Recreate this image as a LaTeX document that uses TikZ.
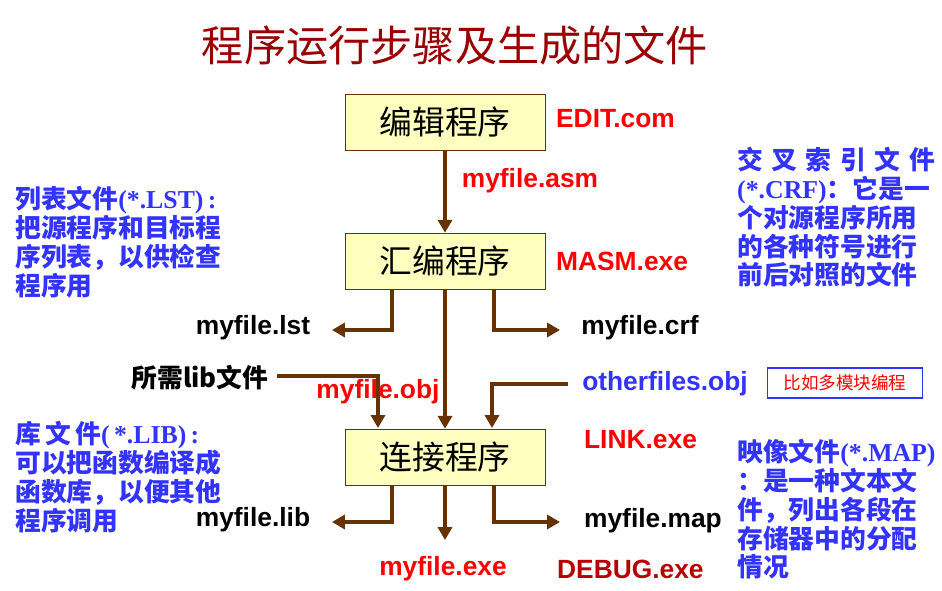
\documentclass[tikz,border=0pt]{standalone}
\usepackage{fontspec}
\setmainfont{Liberation Sans}
\newfontfamily\cjk{Noto Sans CJK SC}
\newfontfamily\tms{Liberation Serif}
\usetikzlibrary{arrows.meta}
\definecolor{arrowbrown}{HTML}{663300}
\definecolor{boxyellow}{HTML}{FFFFC0}
\definecolor{titlered}{HTML}{990000}
\definecolor{noteblue}{HTML}{3333FF}
\begin{document}
\begin{tikzpicture}[x=0.03cm,y=-0.03cm,
  prog/.style={draw=arrowbrown,fill=boxyellow,minimum width=200*0.03cm,minimum height=56*0.03cm,font=\cjk\fontsize{28}{30}\selectfont},
  flow/.style={arrowbrown,line width=2.6pt,-{Triangle[length=11pt,width=12pt]}},
  fname/.style={font=\bfseries\fontsize{22.5}{26}\selectfont},
  note/.style={noteblue,font=\tms\bfseries\fontsize{22}{24.6}\selectfont,align=left,anchor=north west,inner sep=0pt}]
  \useasboundingbox (0,0) rectangle (942,591);
  \node[titlered,font=\cjk\fontsize{36}{40}\selectfont] (title) at (455,45) {程序运行步骤及生成的文件};
  % the three programs
  \node[prog] (edit) at (445,122) {编辑程序};
  \node[prog] (masm) at (445,261) {汇编程序};
  \node[prog] (link) at (445,457) {连接程序};
  \node[fname,red,anchor=west] (editcom) at (552,119) {EDIT.com};
  \node[fname,red,anchor=west] (masmexe) at (552,261) {MASM.exe};
  \node[fname,red,anchor=west] (linkexe) at (580,440) {LINK.exe};
  \draw[flow] (edit) -- (masm);
  \node[fname,red] (asm) at (530,181) {myfile.asm};
  % outputs of masm
  \node[fname] (lst) at (253,328) {myfile.lst};
  \node[fname] (crf) at (640,328) {myfile.crf};
  \coordinate (lstend) at (332,330);
  \coordinate (crfend) at (560,330);
  \draw[flow] (masm.south) ++(-53,0) |- (lstend);
  \draw[flow] (masm.south) ++(49,0) |- (crfend);
  \draw[flow] (masm) -- (link);
  % inputs of link
  \node[font=\cjk\bfseries\fontsize{22}{24}\selectfont] (lib) at (200,378) {所需lib文件};
  \node[fname,noteblue] (other) at (665,384) {otherfiles.obj};
  \node[draw=noteblue,line width=1.5pt,text=red,font=\cjk\fontsize{15}{16}\selectfont,minimum width=155*0.03cm,minimum height=30*0.03cm] (multi) at (845,383) {比如多模块编程};
  \coordinate (libin) at (378,428);
  \coordinate (otherin) at (492,428);
  \draw[flow] (lib.east) ++(4,-2) -| (libin);
  \draw[flow] (other.west) ++(-10,0) -| (otherin);
  \node[fname,red] (obj) at (378,392) {myfile.obj};
  % outputs of link
  \node[fname] (libout) at (253,520) {myfile.lib};
  \node[fname,anchor=west] (map) at (580,521) {myfile.map};
  \node[fname,red] (exe) at (443,569) {myfile.exe};
  \node[fname,titlered!70!red,anchor=west] (debug) at (553,569) {DEBUG.exe};
  \coordinate (libend) at (332,522);
  \coordinate (mapend) at (560,522);
  \coordinate (exeend) at (445,540);
  \draw[flow] (link.south) ++(-53,0) |- (libend);
  \draw[flow] (link.south) ++(49,0) |- (mapend);
  \draw[flow] (link) -- (exeend);
  % notes
  \node[note] (lstnote) at (15,186) {{\cjk 列表文件}(*.LST)\,:\\{\cjk 把源程序和目标程}\\{\cjk 序列表，以供检查}\\{\cjk 程序用}};
  \node[note] (crfnote) at (737,147) {{\cjk 交\,\,叉\,\,索\,\,引\,\,文\,\,件}\\(*.CRF){\cjk ：它是一}\\{\cjk 个对源程序所用}\\{\cjk 的各种符号进行}\\{\cjk 前后对照的文件}};
  \node[note] (libnote) at (15,421) {{\cjk 库\,文\,件}(\,*.LIB)\,:\\{\cjk 可以把函数编译成}\\{\cjk 函数库，以便其他}\\{\cjk 程序调用}};
  \node[note] (mapnote) at (737,439) {{\cjk 映像文件}(*.MAP)\\{\cjk ：是一种文本文}\\{\cjk 件，列出各段在}\\{\cjk 存储器中的分配}\\{\cjk 情况}};
\end{tikzpicture}
\end{document}
